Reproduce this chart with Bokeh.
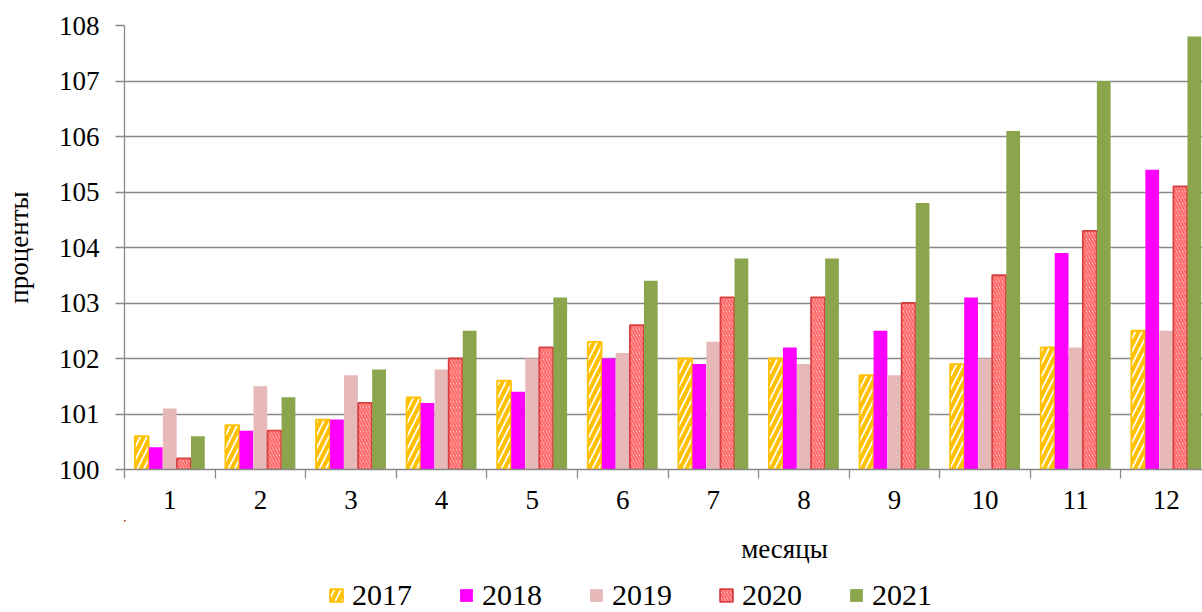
from bokeh.plotting import figure
from bokeh.models import ColumnDataSource, Range1d, FixedTicker, Legend, LegendItem, Label
from bokeh.layouts import column
from bokeh.transform import dodge
from bokeh.embed import file_html
from bokeh.resources import INLINE

months = [1, 2, 3, 4, 5, 6, 7, 8, 9, 10, 11, 12]
y2017 = [100.6, 100.8, 100.9, 101.3, 101.6, 102.3, 102.0, 102.0, 101.7, 101.9, 102.2, 102.5]
y2018 = [100.4, 100.7, 100.9, 101.2, 101.4, 102.0, 101.9, 102.2, 102.5, 103.1, 103.9, 105.4]
y2019 = [101.1, 101.5, 101.7, 101.8, 102.0, 102.1, 102.3, 101.9, 101.7, 102.0, 102.2, 102.5]
y2020 = [100.2, 100.7, 101.2, 102.0, 102.2, 102.6, 103.1, 103.1, 103.0, 103.5, 104.3, 105.1]
y2021 = [100.6, 101.3, 101.8, 102.5, 103.1, 103.4, 103.8, 103.8, 104.8, 106.1, 107.0, 107.8]
years = ["2017", "2018", "2019", "2020", "2021"]
y_ticks = [100, 101, 102, 103, 104, 105, 106, 107, 108]
x_title = "месяцы"
y_title = "проценты"

FONT = "Liberation Serif"
GRID = "#888888"

src = ColumnDataSource(dict(month=months, y2017=y2017, y2018=y2018, y2019=y2019,
                            y2020=y2020, y2021=y2021))

p = figure(width=1202, height=520, output_backend="svg", toolbar_location=None,
           x_range=Range1d(0.5, 12.4), y_range=Range1d(100, 108),
           min_border_left=0, min_border_right=0, min_border_top=25, min_border_bottom=51)
p.outline_line_color = None
p.background_fill_color = "white"

w = 0.152
step = 0.155
styles = [
    dict(fill_color="white", hatch_pattern="/", hatch_color="#FFC000", hatch_scale=13, hatch_weight=4,
         line_color="#FFC000", line_width=1.8),
    dict(fill_color="#FF00FF", line_color=None),
    dict(fill_color="#E6B9B8", line_color=None),
    dict(fill_color="white", hatch_pattern="\\", hatch_color="#FF6A6A", hatch_scale=6, hatch_weight=2.4,
         line_color="#D94040", line_width=1.8),
    dict(fill_color="#8BA54C", line_color=None),
]
for i, (yr, st) in enumerate(zip(years, styles)):
    p.vbar(x=dodge("month", (i - 2) * step, range=p.x_range), top="y" + yr, bottom=100,
           width=w, source=src, **st)

# axes
p.xgrid.grid_line_color = None
p.ygrid.grid_line_color = GRID
p.ygrid.grid_line_width = 1.3
p.ygrid.ticker = FixedTicker(ticks=y_ticks)

ya = p.yaxis[0]
ya.ticker = FixedTicker(ticks=y_ticks)
ya.axis_line_color = GRID
ya.axis_line_width = 1.3
ya.major_tick_line_color = GRID
ya.major_tick_line_width = 1.3
ya.major_tick_out = 9
ya.major_tick_in = 0
ya.minor_tick_line_color = None
ya.major_label_text_font = FONT
ya.major_label_text_font_size = "27px"
ya.major_label_text_color = "black"
ya.major_label_standoff = 16
ya.axis_label = y_title
ya.axis_label_text_font = FONT
ya.axis_label_text_font_size = "27px"
ya.axis_label_text_font_style = "normal"
ya.axis_label_text_color = "black"
ya.axis_label_standoff = 22

xa = p.xaxis[0]
xa.ticker = FixedTicker(ticks=months, minor_ticks=[m - 0.5 for m in months] + [12.5])
xa.axis_line_color = GRID
xa.axis_line_width = 1.3
xa.major_tick_line_color = None
xa.major_tick_out = 0
xa.major_tick_in = 0
xa.minor_tick_line_color = GRID
xa.minor_tick_line_width = 1.3
xa.minor_tick_out = 9
xa.minor_tick_in = 0
xa.major_label_text_font = FONT
xa.major_label_text_font_size = "27px"
xa.major_label_text_color = "black"
xa.major_label_standoff = 12

# lower strip: axis title + legend (frame is aligned with the main frame: x 124..1202)
p2 = figure(width=1202, height=92, output_backend="svg", toolbar_location=None,
            x_range=Range1d(124, 1202), y_range=Range1d(0, 92),
            x_axis_location=None, y_axis_location=None,
            min_border_left=0, min_border_right=0, min_border_top=0, min_border_bottom=0)
p2.outline_line_color = None
p2.xgrid.grid_line_color = None
p2.ygrid.grid_line_color = None

items = []
for yr, st in zip(years, styles):
    # legend proxies: same data, shifted far outside this strip's visible range
    r = p2.vbar(x=dodge("month", -5000, range=p2.x_range), top="y" + yr, bottom=100,
                width=0.15, source=src, **st)
    items.append(LegendItem(label=yr, renderers=[r]))

p2.add_layout(Label(x=784, y=64, text=x_title, text_font=FONT, text_font_size="27px",
                    text_align="center", text_baseline="alphabetic", text_color="black"))

legend = Legend(items=items, orientation="horizontal", location=(204, 0),
                label_text_font=FONT, label_text_font_size="30px", label_text_color="black",
                glyph_width=16, glyph_height=16, label_standoff=8, spacing=46,
                padding=0, margin=0, border_line_color=None, background_fill_alpha=0,
                label_height=28)
p2.add_layout(legend, "center")

layout = column(p, p2, spacing=0)
open("out.html", "w").write(file_html(layout, INLINE))
